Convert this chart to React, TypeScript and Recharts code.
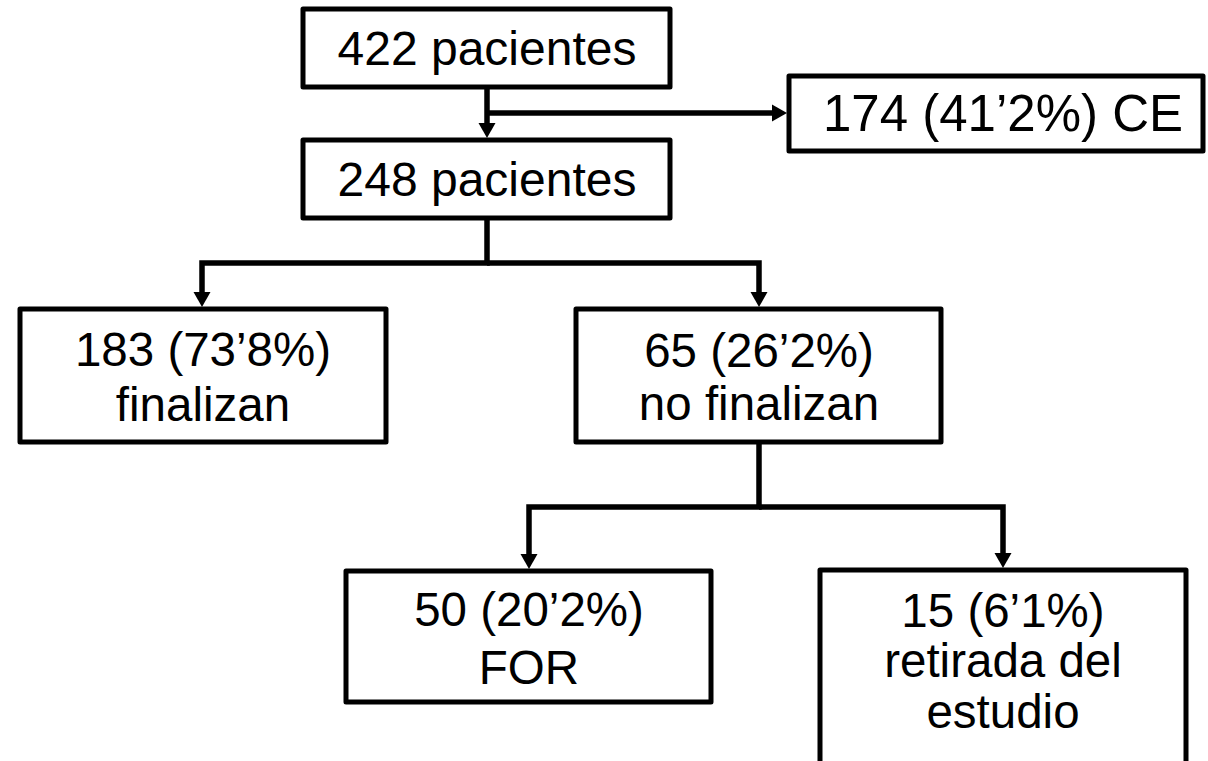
import React from "react";
import {
  ScatterChart,
  Scatter,
  XAxis,
  YAxis,
  ReferenceArea,
} from "recharts";

// Diagrama de flujo de pacientes (coordenadas en el espacio del lienzo 1208x761)
const nodeLabels: string[][] = [
  ["422 pacientes"],
  ["174 (41’2%) CE"],
  ["248 pacientes"],
  ["183 (73’8%)", "finalizan"],
  ["65 (26’2%)", "no finalizan"],
  ["50 (20’2%)", "FOR"],
  ["15 (6’1%)", "retirada del", "estudio"],
];
const nodeLeft = [303, 789, 303, 20, 576, 346, 820];
const nodeRight = [670, 1203, 670, 386, 941, 711, 1186];
const nodeTop = [9, 76, 140, 309, 309, 571, 570];
const nodeBottom = [87, 151, 218, 442, 442, 702, 790];
const labelCx = [487, 1003, 487, 203, 759, 529, 1003];
const labelCy = [48, 113, 179, 376, 376, 638, 660];
const labelSize = [48, 51, 48, 47.5, 47.5, 47.5, 47.5];
const labelGap = [0, 0, 0, 55, 53, 58, 50.5];

// Conectores: el último punto es la punta de la flecha
const edges: [number, number][][] = [
  [[487, 87], [487, 138]],
  [[487, 113], [787, 113]],
  [[487, 218], [487, 263], [202, 263], [202, 307]],
  [[487, 263], [759, 263], [759, 307]],
  [[759, 442], [759, 507], [529, 507], [529, 569]],
  [[759, 507], [1003, 507], [1003, 568]],
];

const W = 1208;
const H = 761;
const ARROW_LEN = 15;
const ARROW_HALF = 8.5;
const FONT = "'Liberation Sans', Arial, sans-serif";

const nodeData = nodeLabels.map((lines, i) => ({
  x: labelCx[i],
  y: labelCy[i],
  lines,
  size: labelSize[i],
  gap: labelGap[i],
}));

const edgeData = edges.map((pts) => {
  const n = pts.length;
  const [px, py] = pts[n - 2];
  const [tx, ty] = pts[n - 1];
  const dx = Math.sign(tx - px);
  const dy = Math.sign(ty - py);
  const trimmed = pts.slice(0, n - 1).map(([x, y]) => ({ x, y }));
  trimmed.push({ x: tx - dx * (ARROW_LEN - 2), y: ty - dy * (ARROW_LEN - 2) });
  return trimmed;
});

const arrowData = edges.map((pts) => {
  const n = pts.length;
  const [px, py] = pts[n - 2];
  const [tx, ty] = pts[n - 1];
  return { x: tx, y: ty, dir: tx !== px ? "right" : "down" };
});

const LabelShape = (props: any) => {
  const { cx, cy, payload } = props;
  const n = payload.lines.length;
  return (
    <g>
      {payload.lines.map((t: string, i: number) => (
        <text
          key={i}
          x={cx}
          y={cy + (i - (n - 1) / 2) * payload.gap + payload.size * 0.358}
          textAnchor="middle"
          fontSize={payload.size}
          fontFamily={FONT}
          fill="#000"
        >
          {t}
        </text>
      ))}
    </g>
  );
};

const ArrowShape = (props: any) => {
  const { cx, cy, payload } = props;
  const pts =
    payload.dir === "right"
      ? `${cx},${cy} ${cx - ARROW_LEN},${cy - ARROW_HALF} ${cx - ARROW_LEN},${cy + ARROW_HALF}`
      : `${cx},${cy} ${cx - ARROW_HALF},${cy - ARROW_LEN} ${cx + ARROW_HALF},${cy - ARROW_LEN}`;
  return <polygon points={pts} fill="#000" />;
};

const Empty = () => <g />;

export default function App() {
  return (
    <div style={{ position: "absolute", left: 0, top: 0, background: "#fff" }}>
      <ScatterChart width={W} height={H} margin={{ top: 0, right: 0, bottom: 0, left: 0 }}>
        <XAxis type="number" dataKey="x" domain={[0, W]} allowDataOverflow hide height={0} />
        <YAxis type="number" dataKey="y" domain={[0, H]} allowDataOverflow reversed hide width={0} />
        {nodeLabels.map((_, i) => (
          <ReferenceArea
            key={`box-${i}`}
            x1={nodeLeft[i]}
            x2={nodeRight[i]}
            y1={nodeTop[i]}
            y2={nodeBottom[i]}
            fill="none"
            fillOpacity={0}
            stroke="#000"
            strokeWidth={5}
            strokeLinejoin="round"
            ifOverflow="visible"
          />
        ))}
        {edgeData.map((pts, i) => (
          <Scatter
            key={`edge-${i}`}
            data={pts}
            line={{ stroke: "#000", strokeWidth: 5.5, strokeLinejoin: "miter" }}
            lineType="joint"
            shape={Empty}
            isAnimationActive={false}
          />
        ))}
        <Scatter data={arrowData} shape={ArrowShape} isAnimationActive={false} />
        <Scatter data={nodeData} shape={LabelShape} isAnimationActive={false} />
      </ScatterChart>
    </div>
  );
}
